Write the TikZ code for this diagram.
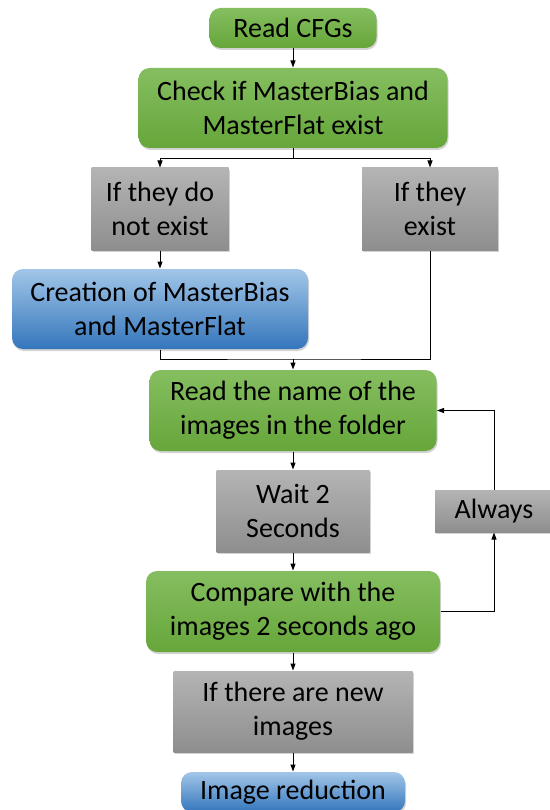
\documentclass[tikz,border=0pt]{standalone}
\usepackage{fontspec}
\setmainfont{Carlito}
\usetikzlibrary{arrows.meta,positioning,shadows}
\definecolor{grtop}{HTML}{85BE60}\definecolor{grbot}{HTML}{66A63A}
\definecolor{gytop}{HTML}{B4B4B4}\definecolor{gybot}{HTML}{8E8E8E}
\definecolor{bltop}{HTML}{A2C6E8}\definecolor{blbot}{HTML}{3476BC}
\begin{document}
\begin{tikzpicture}[x=1pt,y=-1pt,>={Triangle[length=7pt,width=5pt]},line width=1pt,
every node/.style={font=\fontsize{28}{34}\selectfont,align=center,inner sep=0pt,drop shadow={shadow xshift=1pt,shadow yshift=-2pt,opacity=0.35}},
greenbox/.style={rounded corners=11pt,top color=grtop,bottom color=grbot},
graybox/.style={top color=gytop,bottom color=gybot},
bluebox/.style={rounded corners=11pt,top color=bltop,bottom color=blbot}]
\useasboundingbox (0,0) rectangle (549,810);
\node[greenbox,minimum width=167pt,minimum height=40pt] (cfg) at (293,28) {Read CFGs};
\node[greenbox,minimum width=309pt,minimum height=80pt] (check) at (293,108) {Check if MasterBias and\\MasterFlat exist};
\node[graybox,minimum width=137pt,minimum height=82pt] (notex) at (160,209) {If they do\\not exist};
\node[graybox,minimum width=136pt,minimum height=82pt] (ex) at (430,209) {If they\\exist};
\node[bluebox,minimum width=296pt,minimum height=80pt] (create) at (160,309) {Creation of MasterBias\\and MasterFlat};
\node[greenbox,minimum width=287pt,minimum height=81pt] (readname) at (293,410.5) {Read the name of the\\images in the folder};
\node[graybox,minimum width=153pt,minimum height=82pt] (wait) at (293,511) {Wait 2\\Seconds};
\node[graybox,minimum width=118pt,minimum height=42pt] (always) at (494,511) {Always};
\node[greenbox,minimum width=294pt,minimum height=81pt] (compare) at (293,611.5) {Compare with the\\images 2 seconds ago};
\node[graybox,minimum width=239pt,minimum height=81pt] (newimg) at (293,711.5) {If there are new\\images};
\node[bluebox,minimum width=224pt,minimum height=40pt] (reduce) at (293,792) {Image reduction};
\coordinate (mrg) at (293,359);
\draw[->] (cfg)--(check);
\draw[->] (check.south)--++(0,10)-|(notex.north);\draw[->] (check.south)--++(0,10)-|(ex.north);
\draw[->] (notex)--(create);
\draw (create.south)|-(mrg)-|(ex.south);\draw[->] (mrg)--(readname.north);
\draw[->] (readname)--(wait);\draw[->] (wait)--(compare);\draw[->] (compare)--(newimg);\draw[->] (newimg)--(reduce);
\draw[->] (compare.east)-|(always.south);\draw[->] (always.north)|-(readname.east);
\end{tikzpicture}
\end{document}
